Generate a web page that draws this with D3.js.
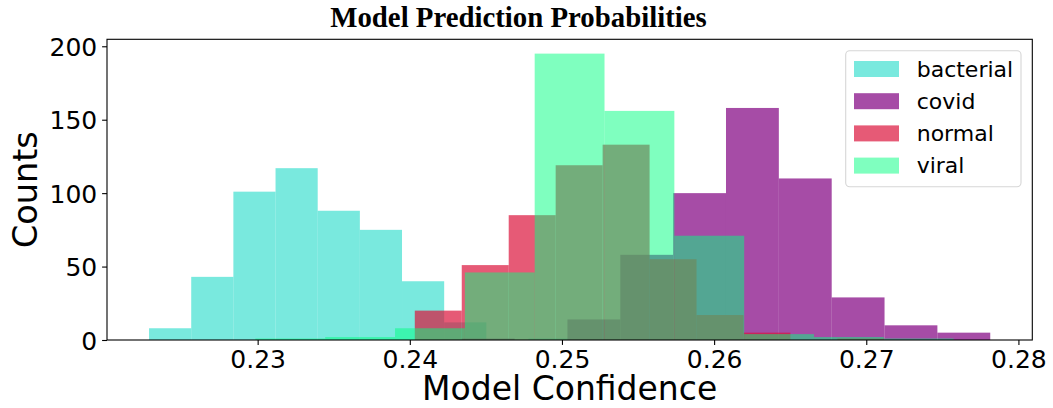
<!DOCTYPE html>
<html><head><meta charset="utf-8">
<script src="https://cdn.jsdelivr.net/npm/d3@7"></script>
<style>body{margin:0;background:#fff} svg{display:block}</style>
</head><body><svg id="chart" width="1053" height="408"></svg>
<script>
// ---- data ----
const seriesNames = ["bacterial", "covid", "normal", "viral"];
const bacterialRange = [0.222863, 0.250571];
const bacterialCounts = [8, 43, 101, 117, 88, 75, 40, 12, 0, 1];
const covidRange = [0.243414, 0.278148];
const covidCounts = [1, 0, 14, 58, 100, 158, 110, 29, 10, 5];
const normalRange = [0.240328, 0.271189];
const normalCounts = [20, 51, 85, 119, 133, 55, 17, 5, 0, 1];
const viralRange = [0.229849, 0.275745];
const viralCounts = [1, 2, 8, 46, 195, 156, 71, 4, 2, 1];
const xTickValues = [0.23, 0.24, 0.25, 0.26, 0.27, 0.28];
const yTickValues = [0, 50, 100, 150, 200];
const titleText = "Model Prediction Probabilities";
const xLabel = "Model Confidence";
const yLabel = "Counts";

const colors = {bacterial: "#40E0D0", covid: "#800080", normal: "#DC143C", viral: "#00FF7F"};
const alphas = {bacterial: 0.7, covid: 0.7, normal: 0.7, viral: 0.5};

const series = [
  {name: "bacterial", range: bacterialRange, counts: bacterialCounts},
  {name: "covid", range: covidRange, counts: covidCounts},
  {name: "normal", range: normalRange, counts: normalCounts},
  {name: "viral", range: viralRange, counts: viralCounts}
];

// ---- layout ----
const L = 107, R = 1032.3, T = 39.3, B = 340;
const svg = d3.select("#chart");

const lo = d3.min(series, s => s.range[0]);
const hi = d3.max(series, s => s.range[1]);
const pad = (hi - lo) * 0.05;
const x = d3.scaleLinear().domain([lo - pad, hi + pad]).range([L, R]);
const ymax = d3.max(series, s => d3.max(s.counts)) * 1.05;
const y = d3.scaleLinear().domain([0, ymax]).range([B, T]);

// bars
series.forEach(s => {
  const n = s.counts.length;
  const bins = s.counts.map((c, i) => ({
    x0: s.range[0] + (s.range[1] - s.range[0]) * i / n,
    x1: s.range[0] + (s.range[1] - s.range[0]) * (i + 1) / n,
    c
  })).filter(d => d.c > 0);
  svg.append("g").selectAll("rect").data(bins).join("rect")
    .attr("x", d => x(d.x0))
    .attr("width", d => x(d.x1) - x(d.x0))
    .attr("y", d => y(d.c))
    .attr("height", d => y(0) - y(d.c))
    .attr("fill", colors[s.name])
    .attr("fill-opacity", alphas[s.name]);
});

// axes
const fontTick = "DejaVu Sans, sans-serif";
const xAxis = d3.axisBottom(x).tickValues(xTickValues).tickFormat(d3.format(".2f")).tickSize(4.9).tickPadding(4.9);
const yAxis = d3.axisLeft(y).tickValues(yTickValues).tickFormat(d3.format("d")).tickSize(4.9).tickPadding(4.9);
const gx = svg.append("g").attr("transform", `translate(0,${B})`).call(xAxis);
const gy = svg.append("g").attr("transform", `translate(${L},0)`).call(yAxis);
[gx, gy].forEach(g => {
  g.select(".domain").remove();
  g.selectAll(".tick line").attr("stroke", "#000").attr("stroke-width", 1.1);
  g.selectAll(".tick text").attr("fill", "#000").style("font-family", fontTick).style("font-size", "25px");
});
gx.selectAll(".tick text").attr("dy", "0.72em");
gy.selectAll(".tick text").attr("dy", "0.36em");

// frame
svg.append("rect").attr("x", L).attr("y", T).attr("width", R - L).attr("height", B - T)
  .attr("fill", "none").attr("stroke", "#000").attr("stroke-width", 1.1);

// labels
svg.append("text").attr("x", (L + R) / 2).attr("y", 400).attr("text-anchor", "middle")
  .style("font-family", fontTick).style("font-size", "33px").attr("fill", "#000").text(xLabel);
svg.append("text").attr("transform", `translate(37,${(T + B) / 2}) rotate(-90)`).attr("text-anchor", "middle")
  .style("font-family", fontTick).style("font-size", "33.5px").attr("fill", "#000").text(yLabel);
svg.append("text").attr("x", 518.5).attr("y", 27).attr("text-anchor", "middle")
  .style("font-family", "Liberation Serif, Times New Roman, serif").style("font-weight", "bold")
  .style("font-size", "28.8px").attr("fill", "#000").text(titleText);

// legend
const lg = svg.append("g");
lg.append("rect").attr("x", 845.7).attr("y", 50.7).attr("width", 175.3).attr("height", 136)
  .attr("rx", 4).attr("fill", "#fff").attr("fill-opacity", 0.8).attr("stroke", "#d6d6d6").attr("stroke-width", 1.1);
seriesNames.forEach((nm, i) => {
  const yy = 61 + i * 32.2;
  lg.append("rect").attr("x", 854).attr("y", yy).attr("width", 45).attr("height", 16)
    .attr("fill", colors[nm]).attr("fill-opacity", alphas[nm]);
  lg.append("text").attr("x", 916.7).attr("y", yy + 15.5)
    .style("font-family", fontTick).style("font-size", "22px").attr("fill", "#000").text(nm);
});
</script></body></html>
